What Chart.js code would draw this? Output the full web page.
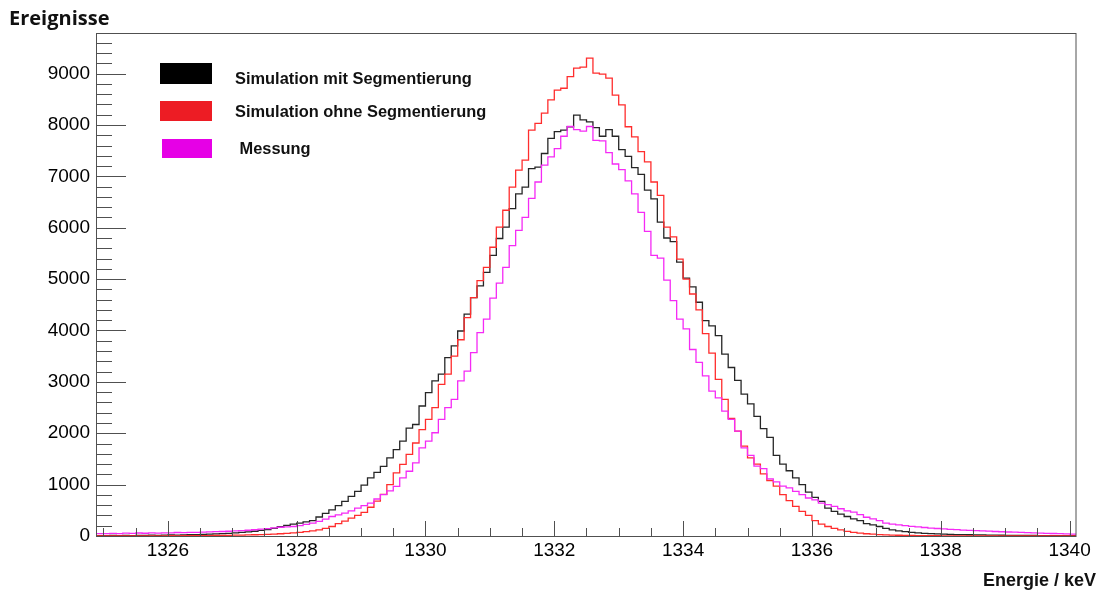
<!DOCTYPE html>
<html>
<head>
<meta charset="utf-8">
<script src="https://cdn.jsdelivr.net/npm/chart.js@4.4.1/dist/chart.umd.min.js"></script>
<style>
  html, body { margin: 0; padding: 0; background: #fff; }
  #wrap { width: 1102px; height: 592px; }
</style>
</head>
<body>
<div id="wrap"><canvas id="spektrum" width="1102" height="592"></canvas></div>
<script>
// Histogram binning in keV (152 bins, 1324.9 .. 1340.1)
var binStart = 1324.9;
var binWidth = 0.1;

var xTicks = [1326, 1328, 1330, 1332, 1334, 1336, 1338, 1340];
var yTicks = [0, 1000, 2000, 3000, 4000, 5000, 6000, 7000, 8000, 9000];

var seriesNames = ['Simulation mit Segmentierung', 'Simulation ohne Segmentierung', ' Messung'];

// counts per bin
var mitSegmentierung = [9,
  8, 10, 7, 12, 9, 14, 11, 16, 13, 18,
  20, 17, 23, 26, 24, 30, 35, 40, 46, 52,
  60, 70, 80, 92, 108, 125, 150, 180, 205, 230,
  250, 275, 300, 370, 440, 510, 590, 674, 770, 870,
  990, 1130, 1240, 1357, 1520, 1680, 1845, 2100, 2170, 2530,
  2790, 3020, 3150, 3470, 3700, 3990, 4320, 4640, 4870, 5130,
  5460, 5790, 6010, 6370, 6660, 6790, 7150, 7180, 7445, 7740,
  7870, 7900, 7965, 8190, 8100, 8060, 7950, 7780, 7910, 7780,
  7520, 7390, 7170, 7040, 6730, 6560, 6110, 5800, 5730, 5330,
  5020, 4850, 4550, 4190, 4090, 3900, 3540, 3280, 3030, 2760,
  2570, 2330, 2090, 1920, 1570, 1400, 1270, 1130, 1000, 855,
  750, 675, 543, 480, 425, 380, 335, 300, 240, 215,
  185, 150, 120, 100, 85, 72, 60, 52, 45, 40,
  35, 32, 28, 26, 24, 22, 20, 18, 17, 15,
  14, 13, 12, 11, 10, 9, 9, 8, 7, 6,
  5];

var ohneSegmentierung = [1,
  1, 0, 2, 1, 1, 3, 2, 2, 4, 3,
  5, 4, 6, 5, 7, 8, 9, 11, 12, 14,
  16, 18, 21, 24, 28, 32, 38, 44, 52, 60,
  72, 85, 100, 120, 150, 185, 240, 290, 348, 400,
  460, 560, 680, 810, 1000, 1230, 1395, 1590, 1810, 2070,
  2270, 2500, 2950, 3150, 3500, 3820, 4250, 4640, 4970, 5230,
  5620, 6010, 6340, 6790, 7120, 7315, 7900, 8030, 8230, 8490,
  8680, 8715, 8940, 9105, 9125, 9300, 9010, 8990, 8910, 8580,
  8390, 7965, 7770, 7480, 7280, 6890, 6630, 6010, 5820, 5390,
  5000, 4710, 4400, 3940, 3560, 3050, 2660, 2290, 2040, 1750,
  1520, 1400, 1210, 1080, 970, 805, 690, 575, 480, 400,
  300, 230, 185, 150, 120, 90, 70, 55, 44, 35,
  28, 22, 18, 15, 12, 10, 9, 7, 6, 5,
  4, 3, 4, 2, 3, 2, 1, 2, 1, 1,
  0, 1, 0, 1, 0, 0, 1, 0, 0, 0,
  0];

var messung = [48,
  45, 52, 48, 55, 50, 58, 54, 60, 57, 62,
  60, 68, 65, 72, 70, 76, 80, 84, 88, 92,
  98, 105, 112, 122, 132, 145, 158, 170, 178, 185,
  200, 225, 250, 283, 330, 380, 410, 445, 490, 543,
  590, 640, 720, 805, 880, 967, 1130, 1260, 1422, 1715,
  1845, 2010, 2270, 2500, 2660, 3020, 3210, 3570, 3960, 4220,
  4630, 4920, 5230, 5650, 5950, 6200, 6570, 6890, 7220, 7380,
  7540, 7780, 7970, 7910, 7880, 7970, 7700, 7690, 7460, 7240,
  7130, 6910, 6660, 6300, 5930, 5460, 5410, 4980, 4580, 4220,
  4030, 3630, 3380, 3115, 2820, 2690, 2430, 2270, 2040, 1715,
  1570, 1360, 1310, 1110, 1055, 970, 935, 870, 805, 740,
  705, 640, 610, 575, 530, 490, 465, 415, 365, 335,
  300, 250, 230, 215, 200, 188, 176, 165, 155, 146,
  138, 130, 123, 116, 110, 104, 98, 93, 88, 83,
  78, 74, 70, 65, 61, 57, 53, 49, 45, 40,
  38];

var lineColors = ['#262626', '#ff2d2d', '#f52af5'];
var boxColors = ['#000000', '#ed1c24', '#e600e6'];

// bin contents -> step outline points (left edge of each bin + closing right edge)
function histPoints(vals) {
  var pts = vals.map(function (v, i) {
    return { x: binStart + i * binWidth, y: v };
  });
  pts.push({ x: binStart + vals.length * binWidth, y: vals[vals.length - 1] });
  return pts;
}

var sansFont = "'Liberation Sans', Arial, Helvetica, sans-serif";

// frame, inner ticks, legend and axis titles
var rahmen = {
  id: 'rahmen',
  afterDraw: function (chart) {
    var ctx = chart.ctx;
    var a = chart.chartArea;
    var xs = chart.scales.x, ys = chart.scales.y;
    ctx.save();

    ctx.strokeStyle = '#505050';
    ctx.lineWidth = 1;
    ctx.strokeRect(a.left - 0.5, a.top + 0.5, a.right - a.left + 0.5, a.bottom - a.top);

    ctx.beginPath();
    for (var v = 0; v <= ys.max; v += 200) {
      var py = Math.round(ys.getPixelForValue(v)) + 0.5;
      var len = (v % 1000 === 0) ? 29 : 15;
      ctx.moveTo(a.left, py);
      ctx.lineTo(a.left + len, py);
    }
    for (var e = 1325; e <= 1340; e += 0.5) {
      var px = Math.round(xs.getPixelForValue(e)) + 0.5;
      var l2 = (e % 2 === 0) ? 15 : 8;
      ctx.moveTo(px, a.bottom);
      ctx.lineTo(px, a.bottom - l2);
    }
    ctx.stroke();

    // legend
    var boxes = [[160, 63, 52, 21], [160, 101, 52, 20], [162, 139, 50, 19]];
    var textY = [84, 117, 154];
    ctx.font = 'bold 16.4px ' + sansFont;
    ctx.textBaseline = 'alphabetic';
    ctx.textAlign = 'left';
    for (var i = 0; i < seriesNames.length; i++) {
      ctx.fillStyle = boxColors[i];
      ctx.fillRect(boxes[i][0], boxes[i][1], boxes[i][2], boxes[i][3]);
      ctx.fillStyle = '#111';
      ctx.fillText(seriesNames[i], 235, textY[i]);
    }

    // axis titles
    ctx.fillStyle = '#111';
    ctx.font = "bold 20px 'Open Sans', sans-serif";
    ctx.fillText('Ereignisse', 9, 25);
    ctx.font = 'bold 18px ' + sansFont;
    ctx.textAlign = 'right';
    ctx.fillText('Energie / keV', 1096, 586);
    ctx.restore();
  }
};

var ctx = document.getElementById('spektrum').getContext('2d');
var spektrum = new Chart(ctx, {
  type: 'line',
  data: {
    datasets: [
      { label: seriesNames[0], data: histPoints(mitSegmentierung), borderColor: lineColors[0], order: 2 },
      { label: seriesNames[1], data: histPoints(ohneSegmentierung), borderColor: lineColors[1], order: 1 },
      { label: seriesNames[2], data: histPoints(messung), borderColor: lineColors[2], order: 0 }
    ]
  },
  options: {
    responsive: false,
    animation: false,
    layout: { padding: { left: 0, top: 33, right: 26, bottom: 0 } },
    elements: {
      line: { borderWidth: 1.3, stepped: true, tension: 0, fill: false },
      point: { radius: 0, hoverRadius: 0 }
    },
    scales: {
      x: {
        type: 'linear',
        min: binStart,
        max: binStart + mitSegmentierung.length * binWidth,
        afterBuildTicks: function (s) {
          s.ticks = xTicks.map(function (v) { return { value: v }; });
        },
        afterFit: function (s) { s.height = 56; },
        grid: { display: false, drawTicks: false },
        border: { display: false },
        ticks: {
          padding: 3,
          color: '#000',
          font: { family: sansFont, size: 19 },
          maxRotation: 0,
          callback: function (v) { return String(v); }
        }
      },
      y: {
        min: 0,
        max: 9790,
        afterBuildTicks: function (s) {
          s.ticks = yTicks.map(function (v) { return { value: v }; });
        },
        afterFit: function (s) { s.width = 97; },
        grid: { display: false, drawTicks: false },
        border: { display: false },
        ticks: {
          padding: 7,
          color: '#000',
          font: { family: sansFont, size: 19 },
          callback: function (v) { return String(v); }
        }
      }
    },
    plugins: {
      legend: { display: false },
      tooltip: { enabled: false }
    }
  },
  plugins: [rahmen]
});
</script>
</body>
</html>
